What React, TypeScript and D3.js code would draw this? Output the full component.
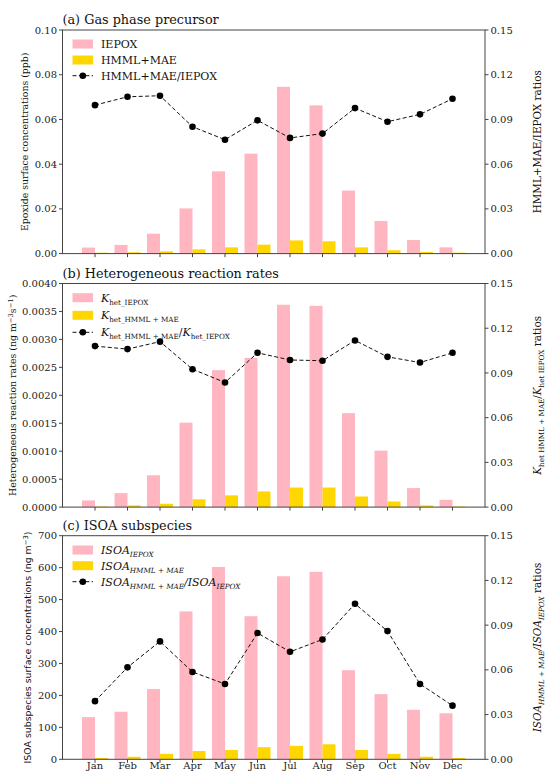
import React from 'react';
import * as d3 from 'd3';

// monthly values
const months = ['Jan', 'Feb', 'Mar', 'Apr', 'May', 'Jun', 'Jul', 'Aug', 'Sep', 'Oct', 'Nov', 'Dec'];

const gasIepox = [0.0027, 0.0039, 0.0089, 0.0202, 0.0368, 0.0447, 0.0746, 0.0663, 0.0282, 0.0146, 0.0061, 0.0028];
const gasHmml = [0.0004, 0.0006, 0.001, 0.0019, 0.0028, 0.004, 0.0059, 0.0055, 0.0028, 0.0015, 0.0007, 0.0004];
const gasRatio = [0.0996, 0.1052, 0.1059, 0.0851, 0.0764, 0.0894, 0.0776, 0.0805, 0.0976, 0.0885, 0.0934, 0.1039];

const khetIepox = [0.00012, 0.00025, 0.00057, 0.00151, 0.00245, 0.00267, 0.00362, 0.0036, 0.00168, 0.00101, 0.00034, 0.00013];
const khetHmml = [0.00001, 0.00003, 0.00006, 0.00014, 0.00021, 0.00028, 0.00035, 0.00035, 0.00019, 0.0001, 0.00003, 0.00001];
const khetRatio = [0.108, 0.106, 0.111, 0.0925, 0.0836, 0.1035, 0.0987, 0.0982, 0.1118, 0.1008, 0.097, 0.1035];

const isoaIepox = [132, 149, 220, 463, 602, 448, 573, 587, 279, 204, 155, 144];
const isoaHmml = [4, 8, 17, 26, 29, 38, 42, 47, 29, 17, 8, 4];
const isoaRatio = [0.039, 0.0617, 0.0791, 0.0586, 0.0505, 0.0847, 0.0721, 0.0804, 0.1043, 0.086, 0.0505, 0.036];

const gasTicks = [0, 0.02, 0.04, 0.06, 0.08, 0.1];
const khetTicks = [0, 0.0005, 0.001, 0.0015, 0.002, 0.0025, 0.003, 0.0035, 0.004];
const isoaTicks = [0, 100, 200, 300, 400, 500, 600, 700];
const ratioTicks = [0, 0.03, 0.06, 0.09, 0.12, 0.15];

const W = 549;
const H = 772;
const X0 = 62.5;
const X1 = 485;
const PH = 223.6;
const SERIF = '"DejaVu Serif", serif';
const SANS = '"DejaVu Sans", sans-serif';
const PINK = '#ffb6c1';
const GOLD = '#ffd700';
const AXIS = '#444';

const x = d3.scaleLinear().domain([-1, 12]).range([X0, X1]);

// segments: [text, 'n' | 'sub' | 'sup', italic]
type Seg = [string, string, boolean?];
function rich(segs: Seg[], small = 7.2) {
  let level = 0;
  return segs.map(([t, kind, it], i) => {
    const target = kind === 'sub' ? 3 : kind === 'sup' ? -3.5 : 0;
    const dy = target - level;
    level = target;
    return (
      <tspan key={i} dy={dy || undefined} fontSize={kind === 'n' ? undefined : small} fontStyle={it ? 'italic' : undefined}>
        {t}
      </tspan>
    );
  });
}

function Panel(props: any) {
  const { top, title, yTicks, yFmt, iepox, hmml, ratio, legend, leftLabel, leftLabelX, leftFont, rightLabel, showMonths } = props;
  const bottom = top + PH;
  const y = d3.scaleLinear().domain([0, yTicks[yTicks.length - 1]]).range([bottom, top]);
  const yr = d3.scaleLinear().domain([0, 0.15]).range([bottom, top]);
  const line = d3.line<number>().x((d, i) => x(i)).y((d) => yr(d));
  const fmtR = d3.format('.2f');

  return (
    <g>
      <text x={X0} y={top - 6} fontFamily={SERIF} fontSize={12.8} fill="#111">{title}</text>

      {iepox.map((v: number, i: number) => (
        <rect key={'p' + i} x={x(i - 0.4)} y={y(v)} width={x(i) - x(i - 0.4)} height={bottom - y(v)} fill={PINK} />
      ))}
      {hmml.map((v: number, i: number) => (
        <rect key={'g' + i} x={x(i)} y={y(v)} width={x(i + 0.4) - x(i)} height={bottom - y(v)} fill={GOLD} />
      ))}

      <path d={line(ratio) || ''} fill="none" stroke="#111" strokeWidth={1} strokeDasharray="4 2.4" />
      {ratio.map((v: number, i: number) => (
        <circle key={'c' + i} cx={x(i)} cy={yr(v)} r={3.3} fill="#000" />
      ))}

      <rect x={X0} y={top} width={X1 - X0} height={PH} fill="none" stroke={AXIS} strokeWidth={1} />

      {yTicks.map((t: number) => (
        <g key={'l' + t}>
          <line x1={X0 - 3.5} x2={X0} y1={y(t)} y2={y(t)} stroke={AXIS} />
          <text x={X0 - 5.5} y={y(t) + 3.6} textAnchor="end" fontFamily={SERIF} fontSize={10} fill="#222">{yFmt(t)}</text>
        </g>
      ))}
      {ratioTicks.map((t) => (
        <g key={'r' + t}>
          <line x1={X1} x2={X1 + 3.5} y1={yr(t)} y2={yr(t)} stroke={AXIS} />
          <text x={X1 + 5.5} y={yr(t) + 3.6} fontFamily={SERIF} fontSize={10} fill="#222">{fmtR(t)}</text>
        </g>
      ))}
      {months.map((m, i) => (
        <g key={'m' + m}>
          <line x1={x(i)} x2={x(i)} y1={bottom} y2={bottom + 3.5} stroke={AXIS} />
          {showMonths && (
            <text x={x(i)} y={bottom + 9.6} textAnchor="middle" fontFamily={SERIF} fontSize={10} fill="#222">{m}</text>
          )}
        </g>
      ))}

      <text transform={`translate(${leftLabelX},${top + PH / 2}) rotate(-90)`} textAnchor="middle"
        fontFamily={leftFont} fontSize={9.4} fill="#111">{leftLabel}</text>
      <text transform={`translate(${541},${top + PH / 2}) rotate(-90)`} textAnchor="middle"
        fontFamily={SERIF} fontSize={10.4} fill="#111">{rightLabel}</text>

      {legend.rows.map((lab: any, k: number) => {
        const cy = top + legend.ys[k];
        return (
          <g key={'lg' + k}>
            {k === 0 && <rect x={X0 + 10} y={cy - 4.5} width={20.5} height={9} fill={PINK} />}
            {k === 1 && <rect x={X0 + 10} y={cy - 4.5} width={20.5} height={9} fill={GOLD} />}
            {k === 2 && (
              <g>
                <line x1={X0 + 10} x2={X0 + 30.5} y1={cy} y2={cy} stroke="#111" strokeDasharray="4 2.4" />
                <circle cx={X0 + 20.3} cy={cy} r={3.3} fill="#000" />
              </g>
            )}
            <text x={X0 + 38.5} y={cy + 3.8} fontFamily={SERIF} fontSize={11} fill="#111">{lab}</text>
          </g>
        );
      })}
    </g>
  );
}

export default function App() {
  return (
    <svg width={W} height={H} style={{ position: 'absolute', left: 0, top: 0, background: '#fff' }}>
      <Panel
        top={30}
        title="(a) Gas phase precursor"
        yTicks={gasTicks}
        yFmt={d3.format('.2f')}
        iepox={gasIepox}
        hmml={gasHmml}
        ratio={gasRatio}
        legend={{ ys: [14, 30, 45.7], rows: ['IEPOX', 'HMML+MAE', 'HMML+MAE/IEPOX'] }}
        leftLabel="Epoxide surface concentrations (ppb)"
        leftLabelX={28}
        leftFont={SERIF}
        rightLabel="HMML+MAE/IEPOX ratios"
      />
      <Panel
        top={283.5}
        title="(b) Heterogeneous reaction rates"
        yTicks={khetTicks}
        yFmt={d3.format('.4f')}
        iepox={khetIepox}
        hmml={khetHmml}
        ratio={khetRatio}
        legend={{
          ys: [14.2, 31.8, 48.8],
          rows: [
            rich([['K', 'n', true], ['het_IEPOX', 'sub']]),
            rich([['K', 'n', true], ['het_HMML + MAE', 'sub']]),
            rich([['K', 'n', true], ['het_HMML + MAE', 'sub'], ['/', 'n'], ['K', 'n', true], ['het_IEPOX', 'sub']]),
          ],
        }}
        leftLabel={rich([['Heterogeneous reaction rates (ng m', 'n'], ['−3', 'sup'], ['s', 'n'], ['−1', 'sup'], [')', 'n']], 6.8)}
        leftLabelX={16}
        leftFont={SERIF}
        rightLabel={rich([['K', 'n', true], ['het HMML + MAE', 'sub'], ['/', 'n'], ['K', 'n', true], ['het IEPOX', 'sub'], [' ratios', 'n']])}
      />
      <Panel
        top={535.7}
        title="(c) ISOA subspecies"
        yTicks={isoaTicks}
        yFmt={d3.format('d')}
        iepox={isoaIepox}
        hmml={isoaHmml}
        ratio={isoaRatio}
        legend={{
          ys: [14.3, 30, 46],
          rows: [
            rich([['ISOA', 'n', true], ['IEPOX', 'sub', true]]),
            rich([['ISOA', 'n', true], ['HMML + MAE', 'sub', true]]),
            rich([['ISOA', 'n', true], ['HMML + MAE', 'sub', true], ['/', 'n', true], ['ISOA', 'n', true], ['IEPOX', 'sub', true]]),
          ],
        }}
        leftLabel={rich([['ISOA subspecies surface concentrations (ng m', 'n'], ['−3', 'sup'], [')', 'n']], 6.8)}
        leftLabelX={31}
        leftFont={SANS}
        rightLabel={rich([['ISOA', 'n', true], ['HMML + MAE', 'sub', true], ['/', 'n', true], ['ISOA', 'n', true], ['IEPOX', 'sub', true], [' ratios', 'n']])}
        showMonths
      />
    </svg>
  );
}
